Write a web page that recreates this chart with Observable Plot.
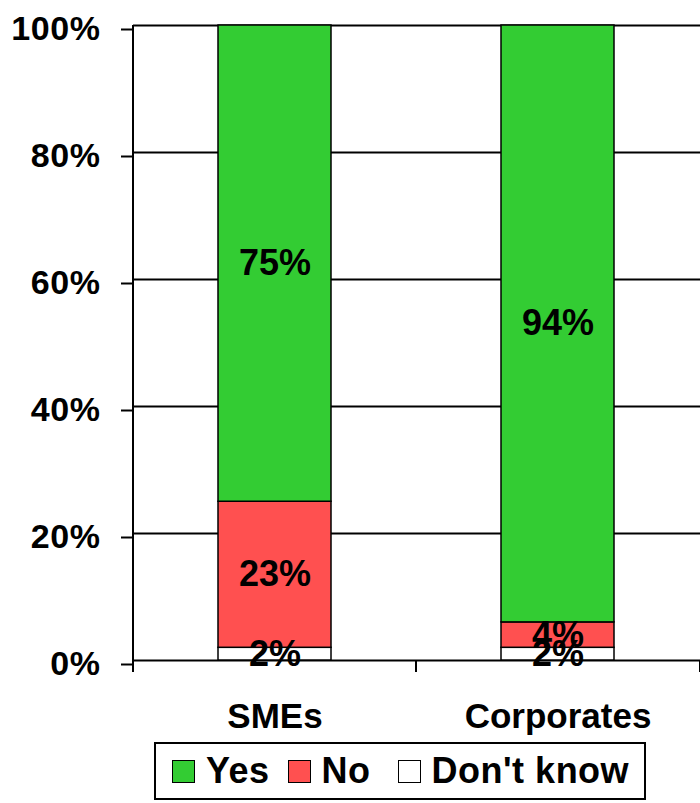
<!DOCTYPE html>
<html>
<head>
<meta charset="utf-8">
<script src="https://cdn.jsdelivr.net/npm/d3@7"></script>
<script src="https://cdn.jsdelivr.net/npm/@observablehq/plot@0.6"></script>
<style>
  html, body { margin: 0; padding: 0; background: #fff; }
  body { width: 700px; font-family: "Liberation Sans", Arial, sans-serif; }
  #legend {
    margin-left: 154px; width: 488px; height: 54px;
    border: 2px solid #000; box-sizing: content-box;
    display: flex; align-items: center;
    font-weight: bold; font-size: 36px; letter-spacing: 0.5px; color: #000;
  }
  .item { display: flex; align-items: center; }
  .sw { width: 21px; height: 21px; border: 1.5px solid #000; display: inline-block; }
</style>
</head>
<body>
<div id="chart"></div>
<div id="legend"></div>
<script>
const categories = ["SMEs", "Corporates"];
const answers = ["Don't know", "No", "Yes"];            // bottom to top
const dontKnowValues = [2, 2];
const noValues = [23, 4];
const yesValues = [75, 94];
const yTicks = [0, 20, 40, 60, 80, 100];
const colors = {"Yes": "#33cc33", "No": "#ff5050", "Don't know": "#ffffff"};

const seriesValues = {"Don't know": dontKnowValues, "No": noValues, "Yes": yesValues};
const data = [];
answers.forEach(a => categories.forEach((c, i) => data.push({category: c, answer: a, value: seriesValues[a][i]})));

const font = "'Liberation Sans', Arial, sans-serif";

const chart = Plot.plot({
  width: 700,
  height: 742,
  marginLeft: 133,
  marginRight: 0,
  marginTop: 25,
  marginBottom: 82,
  style: {fontFamily: font, background: "#fff", color: "#000", overflow: "visible"},
  x: {domain: categories, paddingInner: 0.6, paddingOuter: 0.3, label: null},
  y: {domain: [0, 100], label: null},
  color: {domain: Object.keys(colors), range: Object.values(colors)},
  marks: [
    Plot.ruleY(yTicks, {stroke: "#000", strokeWidth: 2}),
    Plot.barY(data, Plot.stackY({x: "category", y: "value", z: "answer", fill: d => colors[d.answer], stroke: "#000", strokeWidth: 1.5})),
    Plot.text(data, Plot.stackY({x: "category", y: "value", z: "answer", text: d => d.value + "%",
      fontSize: 36, fontWeight: "bold", fill: "#000", fontFamily: font})),
    Plot.axisY({ticks: yTicks, tickFormat: d => d + "%", tickSize: 12, tickPadding: 21, strokeWidth: 2,
      fontSize: 34, fontWeight: "bold", dy: 4, fontFamily: font}),
    Plot.axisX({tickSize: 0, tickPadding: 43, fontSize: 35, fontWeight: "bold", fontFamily: font})
  ]
});
document.getElementById("chart").appendChild(chart);
d3.select(chart).selectAll("g[aria-label='y-axis tick label'] text").style("letter-spacing", "0.6px");

// axis line and category separator ticks derived from scales
const xs = chart.scale("x"), ys = chart.scale("y");
const svg = d3.select(chart);
const y0 = ys.apply(0), yTop = ys.apply(100);
const gap = xs.step - xs.bandwidth;
const boundaries = [xs.range[0]]
  .concat(categories.slice(0, -1).map(c => xs.apply(c) + xs.bandwidth + gap / 2))
  .concat([xs.range[1]]);
const g = svg.append("g").attr("stroke", "#000").attr("stroke-width", 2);
g.append("line").attr("x1", xs.range[0]).attr("x2", xs.range[0]).attr("y1", yTop).attr("y2", y0 + 12);
boundaries.forEach(b => g.append("line").attr("x1", b).attr("x2", b).attr("y1", y0).attr("y2", y0 + 12));

// legend
const legendOrder = ["Yes", "No", "Don't know"];
const lg = d3.select("#legend");
const offsets = [16, 18, 27];
legendOrder.forEach((a, i) => {
  const it = lg.append("div").attr("class", "item").style("margin-left", offsets[i] + "px");
  it.append("span").attr("class", "sw").style("background", colors[a]);
  it.append("span").style("margin-left", "11px").text(a);
});
</script>
</body>
</html>
